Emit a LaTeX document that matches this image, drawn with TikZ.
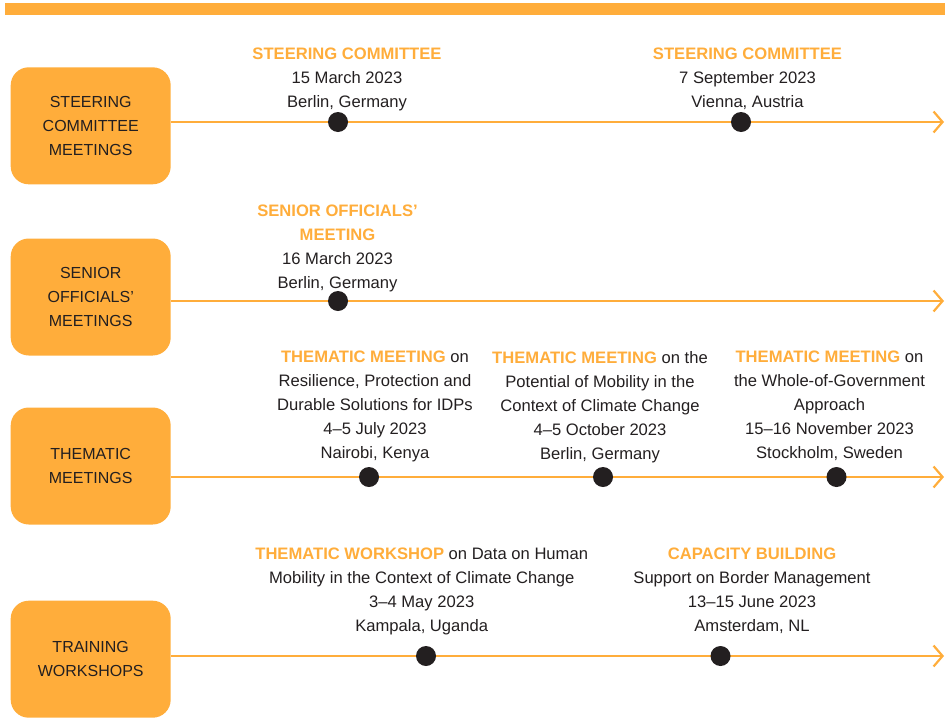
\documentclass[tikz,border=0pt]{standalone}
\usepackage{fontspec}
\setmainfont{Liberation Sans}
\usetikzlibrary{arrows.meta}
\definecolor{accent}{HTML}{FFAD3B}
\definecolor{ink}{HTML}{231F20}
\newcommand\hdg[1]{{\bfseries\color{accent}#1}}
\begin{document}
\begin{tikzpicture}[x=1pt,y=-1pt,
  txt/.style={font=\fontsize{16.6}{24}\selectfont, text=ink, align=center, inner sep=0pt, anchor=north},
  cat/.style={rectangle, rounded corners=18pt, fill=accent, minimum width=160pt, minimum height=117pt, font=\fontsize{16}{24}\selectfont, text=ink, align=center, inner sep=0pt},
  tl/.style={draw=accent, line width=2.2pt, -{Straight Barb[length=9pt,width=21pt]}},
  evdot/.style={circle, fill=ink, minimum size=20pt, inner sep=0pt},
]
\useasboundingbox (0,0) rectangle (945,718);
\fill[accent] (5,3) rectangle (945,14.5);

% category boxes
\node[cat] (b1) at (90.7,125.8) {STEERING\\COMMITTEE\\MEETINGS};
\node[cat] (b2) at (90.7,297) {SENIOR\\OFFICIALS’\\MEETINGS};
\node[cat] (b3) at (90.7,466) {THEMATIC\\MEETINGS};
\node[cat] (b4) at (90.7,659.2) {TRAINING\\WORKSHOPS};

% line ends
\coordinate (e1) at (944,122);
\coordinate (e2) at (944,301);
\coordinate (e3) at (944,477);
\coordinate (e4) at (944,656);

\draw[tl] (b1.east |- e1) -- (e1);
\draw[tl] (b2.east |- e2) -- (e2);
\draw[tl] (b3.east |- e3) -- (e3);
\draw[tl] (b4.east |- e4) -- (e4);

% event dots
\node[evdot] (d11) at (338,122) {};
\node[evdot] (d12) at (741,122) {};
\node[evdot] (d21) at (338,301) {};
\node[evdot] (d31) at (369,477) {};
\node[evdot] (d32) at (603,477) {};
\node[evdot] (d33) at (836.5,477) {};
\node[evdot] (d41) at (426,656) {};
\node[evdot] (d42) at (720.5,656) {};

% event texts
\node[txt] (t11) at (347,47.8) {\hdg{STEERING COMMITTEE}\\15 March 2023\\Berlin, Germany};
\node[txt] (t12) at (747.5,47.8) {\hdg{STEERING COMMITTEE}\\7 September 2023\\Vienna, Austria};
\node[txt] (t21) at (337.5,204.3) {\hdg{SENIOR OFFICIALS’}\\\hdg{MEETING}\\16 March 2023\\Berlin, Germany};
\node[txt] (t31) at (375,350.8) {\hdg{THEMATIC MEETING} on\\Resilience, Protection and\\Durable Solutions for IDPs\\4–5 July 2023\\Nairobi, Kenya};
\node[txt] (t32) at (600,350.8) {\hdg{THEMATIC MEETING} on the\\Potential of Mobility in the\\Context of Climate Change\\4–5 October 2023\\Berlin, Germany};
\node[txt] (t33) at (829.5,350.8) {\hdg{THEMATIC MEETING} on\\the Whole-of-Government\\Approach\\15–16 November 2023\\Stockholm, Sweden};
\node[txt] (t41) at (421.7,547.8) {\hdg{THEMATIC WORKSHOP} on Data on Human\\Mobility in the Context of Climate Change\\3–4 May 2023\\Kampala, Uganda};
\node[txt] (t42) at (752,547.8) {\hdg{CAPACITY BUILDING}\\Support on Border Management\\13–15 June 2023\\Amsterdam, NL};
\end{tikzpicture}
\end{document}
